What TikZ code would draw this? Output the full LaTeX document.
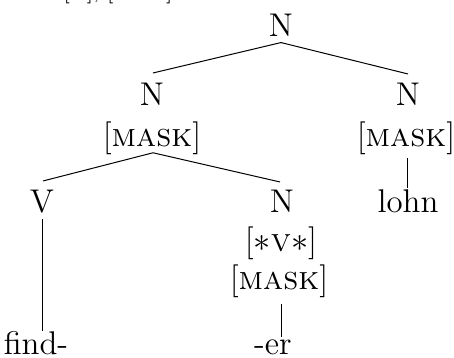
\documentclass[tikz,border=0pt]{standalone}
\usetikzlibrary{calc}
\begin{document}
\begin{tikzpicture}[x=0.35pt,y=-0.35pt,
  lab/.style={inner sep=0pt,anchor=base,font=\fontsize{11.5}{13}\selectfont},
  edge/.style={draw=black,line width=0.35pt}]
\useasboundingbox (0,0) rectangle (454,358);
\begin{scope}
\clip (0,0) rectangle (454,358);
\node[inner sep=0pt,anchor=base,font=\fontsize{7.5}{9}\selectfont] (frag) at (118,-1) {[N], [\textsc{mask}]};
\end{scope}
\node[lab] (nTop) at (281,37) {N};
\node[lab] (nL) at (152,106) {N};
\node[lab] (mL) at (152,147) {[\textsc{mask}]};
\node[lab] (nR) at (408,106) {N};
\node[lab] (mR) at (406,147) {[\textsc{mask}]};
\node[lab] (lohn) at (408,213) {lohn};
\node[lab] (V) at (42,213) {V};
\node[lab] (nB) at (282,213) {N};
\node[lab] (vB) at (281,252) {[$*$\textsc{v}$*$]};
\node[lab] (mB) at (279,290) {[\textsc{mask}]};
\node[lab] (find) at (36,355) {find-};
\node[lab] (er) at (273,355) {-er};
\draw[edge] ($(nTop.south)+(0,5)$) -- ($(nL.north)+(1,-10)$);
\draw[edge] ($(nTop.south)+(0,5)$) -- ($(nR.north)+(0,-9)$);
\draw[edge] ($(mL.south)+(1,-3)$) -- ($(V.north)+(1,-9)$);
\draw[edge] ($(mL.south)+(1,-3)$) -- ($(nB.north)+(-2,-8)$);
\draw[edge] ($(mR.south)+(1,2)$) -- ($(lohn.north)+(-1,-2)$);
\draw[edge] ($(V.south)+(0,5)$) -- ($(find.north)+(6,0)$);
\draw[edge] ($(mB.south)+(2,5)$) -- ($(er.north)+(8,-3)$);
\end{tikzpicture}
\end{document}
